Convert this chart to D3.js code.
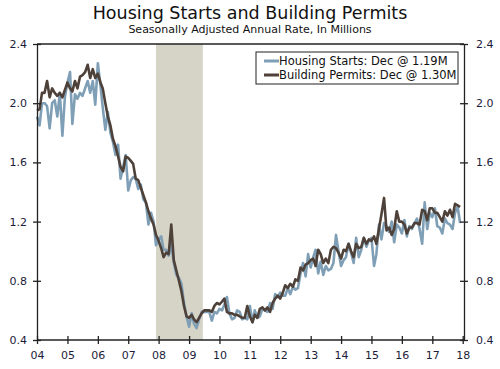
<!DOCTYPE html>
<html>
<head>
<meta charset="utf-8">
<script src="https://cdn.jsdelivr.net/npm/d3@7"></script>
<style>
  body { margin: 0; background: #fff; }
  text { font-family: "DejaVu Sans", Verdana, sans-serif; }
</style>
</head>
<body>
<div id="chart"></div>
<script>
// monthly, Jan 2004 - Dec 2017, millions of units (SAAR)
var starts = [
  1.91, 1.85, 2.00, 2.00, 1.98, 1.83, 2.00, 2.02, 1.91, 2.07, 1.78, 2.04,
  2.14, 2.21, 1.86, 2.06, 2.03, 2.07, 2.05, 2.10, 2.15, 2.07, 2.15, 1.99,
  2.27, 2.12, 1.97, 1.82, 1.94, 1.80, 1.74, 1.65, 1.72, 1.49, 1.57, 1.65,
  1.41, 1.48, 1.50, 1.49, 1.42, 1.45, 1.35, 1.33, 1.18, 1.26, 1.20, 1.04,
  1.08, 1.10, 1.01, 1.01, 0.97, 1.05, 0.92, 0.84, 0.82, 0.78, 0.65, 0.56,
  0.49, 0.58, 0.51, 0.48, 0.54, 0.59, 0.59, 0.59, 0.59, 0.53, 0.59, 0.58,
  0.61, 0.60, 0.64, 0.69, 0.58, 0.54, 0.55, 0.60, 0.59, 0.54, 0.55, 0.54,
  0.63, 0.52, 0.60, 0.55, 0.56, 0.61, 0.60, 0.59, 0.65, 0.61, 0.71, 0.69,
  0.72, 0.70, 0.70, 0.75, 0.71, 0.76, 0.74, 0.75, 0.85, 0.92, 0.83, 0.98,
  0.89, 0.96, 1.01, 0.85, 0.93, 0.84, 0.90, 0.87, 0.88, 0.92, 1.11, 1.00,
  0.90, 0.94, 0.96, 1.05, 0.99, 0.92, 1.09, 0.96, 1.01, 1.09, 1.03, 1.07,
  1.09, 0.90, 0.98, 1.18, 1.08, 1.19, 1.17, 1.13, 1.20, 1.06, 1.18, 1.16,
  1.12, 1.21, 1.10, 1.17, 1.15, 1.19, 1.22, 1.15, 1.05, 1.33, 1.15, 1.26,
  1.23, 1.29, 1.17, 1.16, 1.12, 1.22, 1.19, 1.18, 1.15, 1.26, 1.30, 1.19
];
var permits = [
  1.95, 1.96, 2.07, 2.07, 2.15, 2.04, 2.10, 2.07, 2.05, 2.07, 2.04, 2.09,
  2.14, 2.10, 2.08, 2.15, 2.10, 2.18, 2.19, 2.21, 2.26, 2.17, 2.23, 2.17,
  2.20, 2.14, 2.10, 2.00, 1.91, 1.85, 1.76, 1.71, 1.64, 1.57, 1.54, 1.64,
  1.63, 1.61, 1.59, 1.49, 1.48, 1.43, 1.38, 1.33, 1.27, 1.22, 1.18, 1.11,
  1.07, 1.02, 0.96, 0.99, 0.98, 1.18, 0.94, 0.87, 0.80, 0.73, 0.63, 0.56,
  0.55, 0.57, 0.54, 0.52, 0.55, 0.58, 0.60, 0.60, 0.60, 0.59, 0.63, 0.65,
  0.64, 0.66, 0.68, 0.59, 0.58, 0.58, 0.57, 0.57, 0.56, 0.55, 0.55, 0.63,
  0.56, 0.52, 0.57, 0.55, 0.61, 0.62, 0.60, 0.62, 0.59, 0.65, 0.68, 0.70,
  0.68, 0.72, 0.77, 0.75, 0.78, 0.76, 0.81, 0.80, 0.89, 0.87, 0.91, 0.92,
  0.94, 0.95, 0.90, 1.01, 0.98, 0.92, 0.95, 0.92, 1.01, 1.03, 1.02, 0.99,
  0.95, 1.01, 1.00, 1.05, 1.00, 0.96, 1.05, 1.02, 1.03, 1.09, 1.05, 1.08,
  1.07, 1.10, 1.05, 1.15, 1.25, 1.36, 1.14, 1.16, 1.11, 1.15, 1.27, 1.20,
  1.20, 1.18, 1.12, 1.16, 1.16, 1.19, 1.19, 1.18, 1.28, 1.27, 1.21, 1.29,
  1.29, 1.26, 1.26, 1.23, 1.20, 1.27, 1.24, 1.28, 1.23, 1.32, 1.31, 1.30
];
var firstMonth = new Date(2004, 0, 1);
var yTicks = [0.4, 0.8, 1.2, 1.6, 2.0, 2.4];
var xTickYears = [2004, 2005, 2006, 2007, 2008, 2009, 2010, 2011, 2012, 2013, 2014, 2015, 2016, 2017, 2018];
var recession = [new Date(2007, 11, 1), new Date(2009, 5, 15)];
var legendLabels = ["Housing Starts: Dec @ 1.19M", "Building Permits: Dec @ 1.30M"];

var width = 500, height = 369;
var plotLeft = 37, plotRight = 464, plotTop = 44, plotBottom = 340;
var startsColor = "#7f9fb6", permitsColor = "#4e4139", axisColor = "#222";

var svg = d3.select("#chart").append("svg")
    .attr("width", width)
    .attr("height", height);

var months = starts.map(function(d, i) {
  return d3.timeMonth.offset(firstMonth, i);
});

var x = d3.scaleTime()
    .domain([new Date(2004, 0, 1), new Date(2018, 0, 1)])
    .range([plotLeft, 462.7]);
var y = d3.scaleLinear()
    .domain([0.4, 2.4])
    .range([plotBottom, plotTop]);

// title
svg.append("text")
    .attr("x", 250).attr("y", 19)
    .attr("text-anchor", "middle")
    .attr("font-size", "17.5px")
    .attr("fill", "#111")
    .text("Housing Starts and Building Permits");
svg.append("text")
    .attr("x", 250).attr("y", 33)
    .attr("text-anchor", "middle")
    .attr("font-size", "11px")
    .attr("fill", "#111")
    .text("Seasonally Adjusted Annual Rate, In Millions");

// recession band
svg.append("rect")
    .attr("x", x(recession[0]))
    .attr("y", plotTop)
    .attr("width", x(recession[1]) - x(recession[0]))
    .attr("height", plotBottom - plotTop)
    .attr("fill", "#d6d3c7");

var line = d3.line()
    .x(function(d, i) { return x(months[i]); })
    .y(function(d) { return y(d); });

svg.append("path")
    .datum(starts)
    .attr("fill", "none")
    .attr("stroke", startsColor)
    .attr("stroke-width", 2.6)
    .attr("stroke-linejoin", "round")
    .attr("d", line);

svg.append("path")
    .datum(permits)
    .attr("fill", "none")
    .attr("stroke", permitsColor)
    .attr("stroke-width", 2.6)
    .attr("stroke-linejoin", "round")
    .attr("d", line);

// frame
svg.append("line")
    .attr("x1", plotLeft).attr("x2", plotRight)
    .attr("y1", plotTop).attr("y2", plotTop)
    .attr("stroke", axisColor).attr("stroke-width", 1.3);

var xAxis = d3.axisBottom(x)
    .tickValues(xTickYears.map(function(yr) { return new Date(yr, 0, 1); }))
    .tickSizeInner(4)
    .tickSizeOuter(0)
    .tickPadding(7)
    .tickFormat(d3.timeFormat("%y"));

var gx = svg.append("g")
    .attr("transform", "translate(0," + plotBottom + ")")
    .call(xAxis);
gx.select(".domain").attr("d", "M" + plotLeft + ",0H" + plotRight);
gx.selectAll(".tick line").attr("y1", -4);

var yLeft = d3.axisLeft(y)
    .tickValues(yTicks)
    .tickSizeInner(4)
    .tickSizeOuter(0)
    .tickPadding(6)
    .tickFormat(d3.format(".1f"));
var gl = svg.append("g")
    .attr("transform", "translate(" + plotLeft + ",0)")
    .call(yLeft);
gl.selectAll(".tick line").attr("x1", 4);

var yRight = d3.axisRight(y)
    .tickValues(yTicks)
    .tickSizeInner(4)
    .tickSizeOuter(0)
    .tickPadding(8)
    .tickFormat(d3.format(".1f"));
var gr = svg.append("g")
    .attr("transform", "translate(" + plotRight + ",0)")
    .call(yRight);
gr.selectAll(".tick line").attr("x1", -4);

svg.selectAll(".domain, .tick line")
    .attr("stroke", axisColor)
    .attr("stroke-width", 1.3);
svg.selectAll(".tick text")
    .attr("font-family", "\"DejaVu Sans\", Verdana, sans-serif")
    .attr("font-size", "11px")
    .attr("fill", "#1c1c3a");

// legend
var legend = svg.append("g").attr("transform", "translate(256,52)");
legend.append("rect")
    .attr("width", 202).attr("height", 32)
    .attr("fill", "#fff")
    .attr("stroke", axisColor)
    .attr("stroke-width", 1);
var items = legend.selectAll("g.item")
    .data(legendLabels)
    .enter().append("g")
    .attr("class", "item")
    .attr("transform", function(d, i) { return "translate(8," + (9 + i * 14) + ")"; });
items.append("line")
    .attr("x1", 0).attr("x2", 15)
    .attr("stroke", function(d, i) { return i == 0 ? startsColor : permitsColor; })
    .attr("stroke-width", 3);
items.append("text")
    .attr("x", 15).attr("dy", "0.35em")
    .attr("font-size", "11.5px")
    .attr("fill", "#111")
    .text(function(d) { return d; });
</script>
</body>
</html>
